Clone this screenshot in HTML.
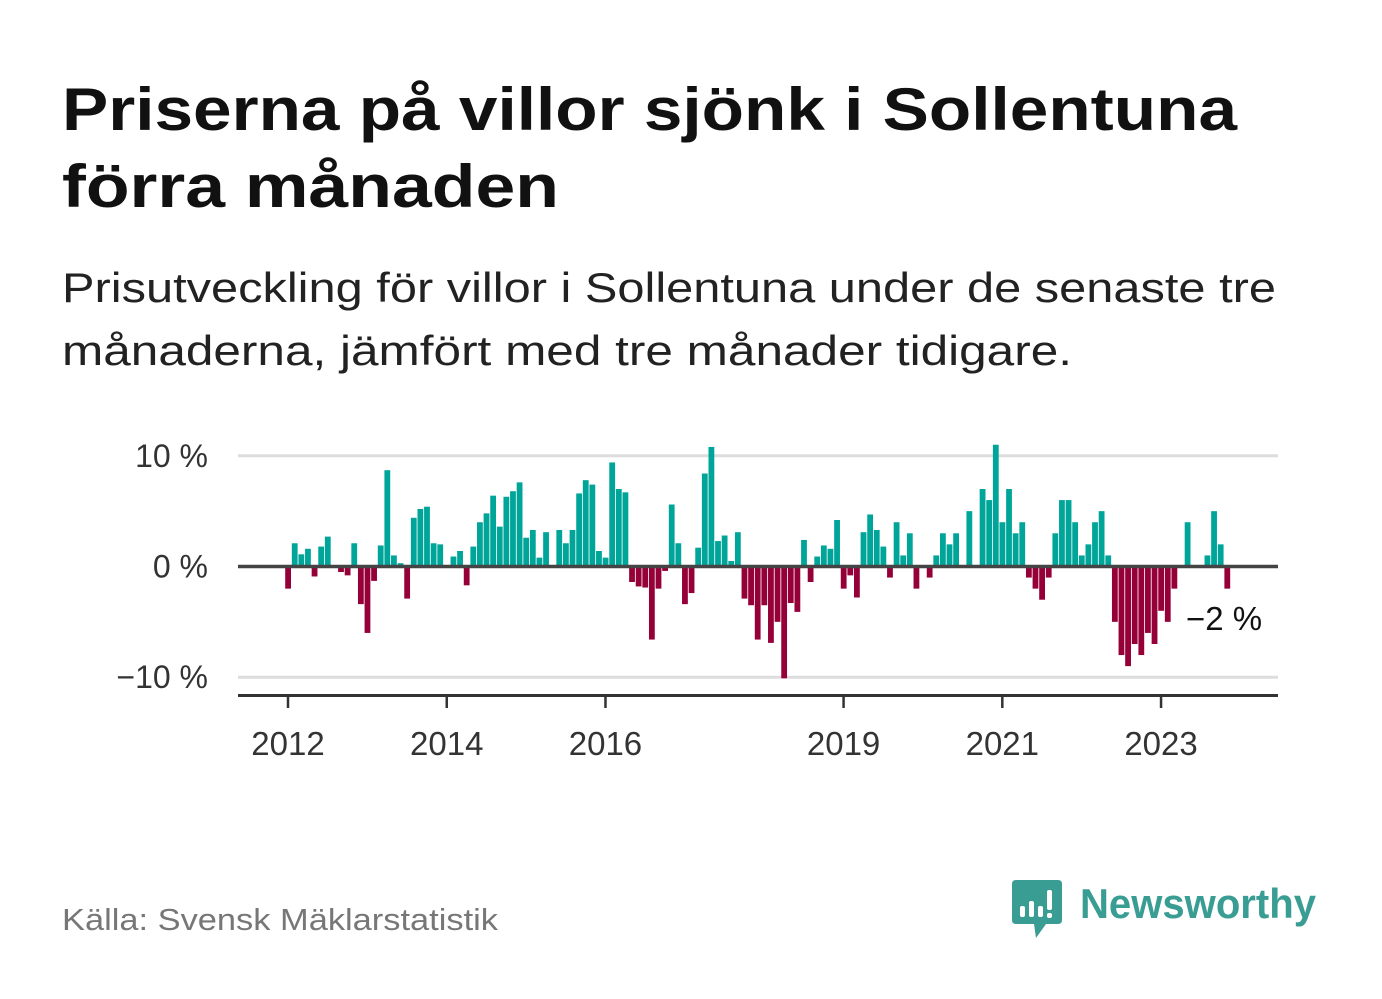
<!DOCTYPE html>
<html><head><meta charset="utf-8"><style>
html,body{margin:0;padding:0;background:#fff;}
svg{display:block;font-family:"Liberation Sans","DejaVu Sans",sans-serif;}
</style></head><body>
<svg width="1382" height="999" viewBox="0 0 1382 999">
<text x="62" y="130" font-size="60" font-weight="bold" fill="#111" textLength="1175" lengthAdjust="spacingAndGlyphs">Priserna på villor sjönk i Sollentuna</text>
<text x="62" y="207" font-size="60" font-weight="bold" fill="#111" textLength="497" lengthAdjust="spacingAndGlyphs">förra månaden</text>
<text x="62" y="302" font-size="42" fill="#222" textLength="1214" lengthAdjust="spacingAndGlyphs">Prisutveckling för villor i Sollentuna under de senaste tre</text>
<text x="62" y="365" font-size="42" fill="#222" textLength="1010" lengthAdjust="spacingAndGlyphs">månaderna, jämfört med tre månader tidigare.</text>
<g id="plot"></g>
<text x="62" y="930" font-size="31" fill="#777" textLength="436" lengthAdjust="spacingAndGlyphs">Källa: Svensk Mäklarstatistik</text>
<g>
<path d="M1016 880 H1058 Q1062 880 1062 884 V920 Q1062 924 1058 924 H1046 L1036 938 L1034 924 H1016 Q1012 924 1012 920 V884 Q1012 880 1016 880 Z" fill="#3a9d94"/>
<rect x="1020" y="906" width="5" height="11" rx="2" fill="#fff"/>
<rect x="1029" y="901" width="5" height="16" rx="2" fill="#fff"/>
<rect x="1038" y="906" width="5" height="11" rx="2" fill="#fff"/>
<rect x="1047" y="890" width="5" height="20" rx="2" fill="#fff"/>
<rect x="1047" y="913" width="5" height="5" rx="2" fill="#fff"/>
<text x="1080" y="918" font-size="42" font-weight="bold" fill="#3a9d94" textLength="236" lengthAdjust="spacingAndGlyphs">Newsworthy</text>
</g>
</svg>
<script>
const values = [-2.0,2.1,1.1,1.6,-0.9,1.8,2.7,0,-0.5,-0.8,2.1,-3.4,
-6.0,-1.3,1.9,8.7,1.0,0.3,-2.9,4.4,5.2,5.4,2.1,2.0,
0,0.9,1.4,-1.7,1.8,4.0,4.8,6.4,3.6,6.3,6.8,7.6,
2.6,3.3,0.8,3.1,0,3.3,2.1,3.3,6.6,7.8,7.4,1.4,
0.8,9.4,7.0,6.7,-1.4,-1.8,-1.9,-6.6,-2.0,-0.4,5.6,2.1,
-3.4,-2.4,1.7,8.4,10.8,2.3,2.8,0.5,3.1,-2.9,-3.5,-6.6,
-3.5,-6.9,-5.0,-10.1,-3.3,-4.1,2.4,-1.4,0.9,1.9,1.6,4.2,
-2.0,-0.8,-2.8,3.1,4.7,3.3,1.8,-1.0,4.0,1.0,3.0,-2.0,
0,-1.0,1.0,3.0,2.0,3.0,0,5.0,0,7.0,6.0,11.0,
4.0,7.0,3.0,4.0,-1.0,-2.0,-3.0,-1.0,3.0,6.0,6.0,4.0,
1.0,2.0,4.0,5.0,1.0,-5.0,-8.0,-9.0,-7.0,-8.0,-6.0,-7.0,
-4.0,-5.0,-2.0,0,4.0,0,0,1.0,5.0,2.0,-2.0];
const startYear = 2012;
const xTickYears = [2012,2014,2016,2019,2021,2023];
const yTicks = [10,0,-10];
const yTickLabels = ["10 %","0 %","\u221210 %"];
const lastLabel = "\u22122 %";

const NS="http://www.w3.org/2000/svg";
const plot=document.getElementById('plot');
const x0=288, monthW=6.614, yZero=566.5, pxPer=11.07;
const xScale=i=>x0+i*monthW;
const yScale=v=>yZero-v*pxPer;
function mk(tag,attrs){const e=document.createElementNS(NS,tag);for(const k in attrs)e.setAttribute(k,attrs[k]);plot.appendChild(e);return e;}
yTicks.forEach((t,k)=>{
  if(t!==0){const g=mk('line',{x1:238,x2:1278,y1:yScale(t),y2:yScale(t),stroke:'#ddd','stroke-width':3});
  
  }
  const l=mk('text',{x:208,y:yScale(t)+11,'text-anchor':'end','font-size':32,fill:'#333'});
  l.textContent=yTickLabels[k];
  
  
});
values.forEach((v,i)=>{
  if(v===0)return;
  const cx=xScale(i);
  const y=v>0?yScale(v):yZero;
  const r=mk('rect',{x:cx-2.8,width:5.8,y:y,height:Math.abs(v)*pxPer,fill:v>0?'#00a59a':'#960039'});
  
  
});
const z=mk('line',{x1:238,x2:1278,y1:yZero,y2:yZero,stroke:'#444','stroke-width':3.5});


const ax=mk('line',{x1:238,x2:1278,y1:695.5,y2:695.5,stroke:'#333','stroke-width':3});


xTickYears.forEach(yr=>{
  const x=xScale((yr-startYear)*12);
  const t=mk('line',{x1:x,x2:x,y1:695,y2:708,stroke:'#333','stroke-width':2.5});
  
  
  const l=mk('text',{x:x,y:755,'text-anchor':'middle','font-size':33,fill:'#333'});
  l.textContent=yr;
  
  
});
const ll=mk('text',{x:1186,y:630,'font-size':33,fill:'#111'});
ll.textContent=lastLabel;


</script>
</body></html>
